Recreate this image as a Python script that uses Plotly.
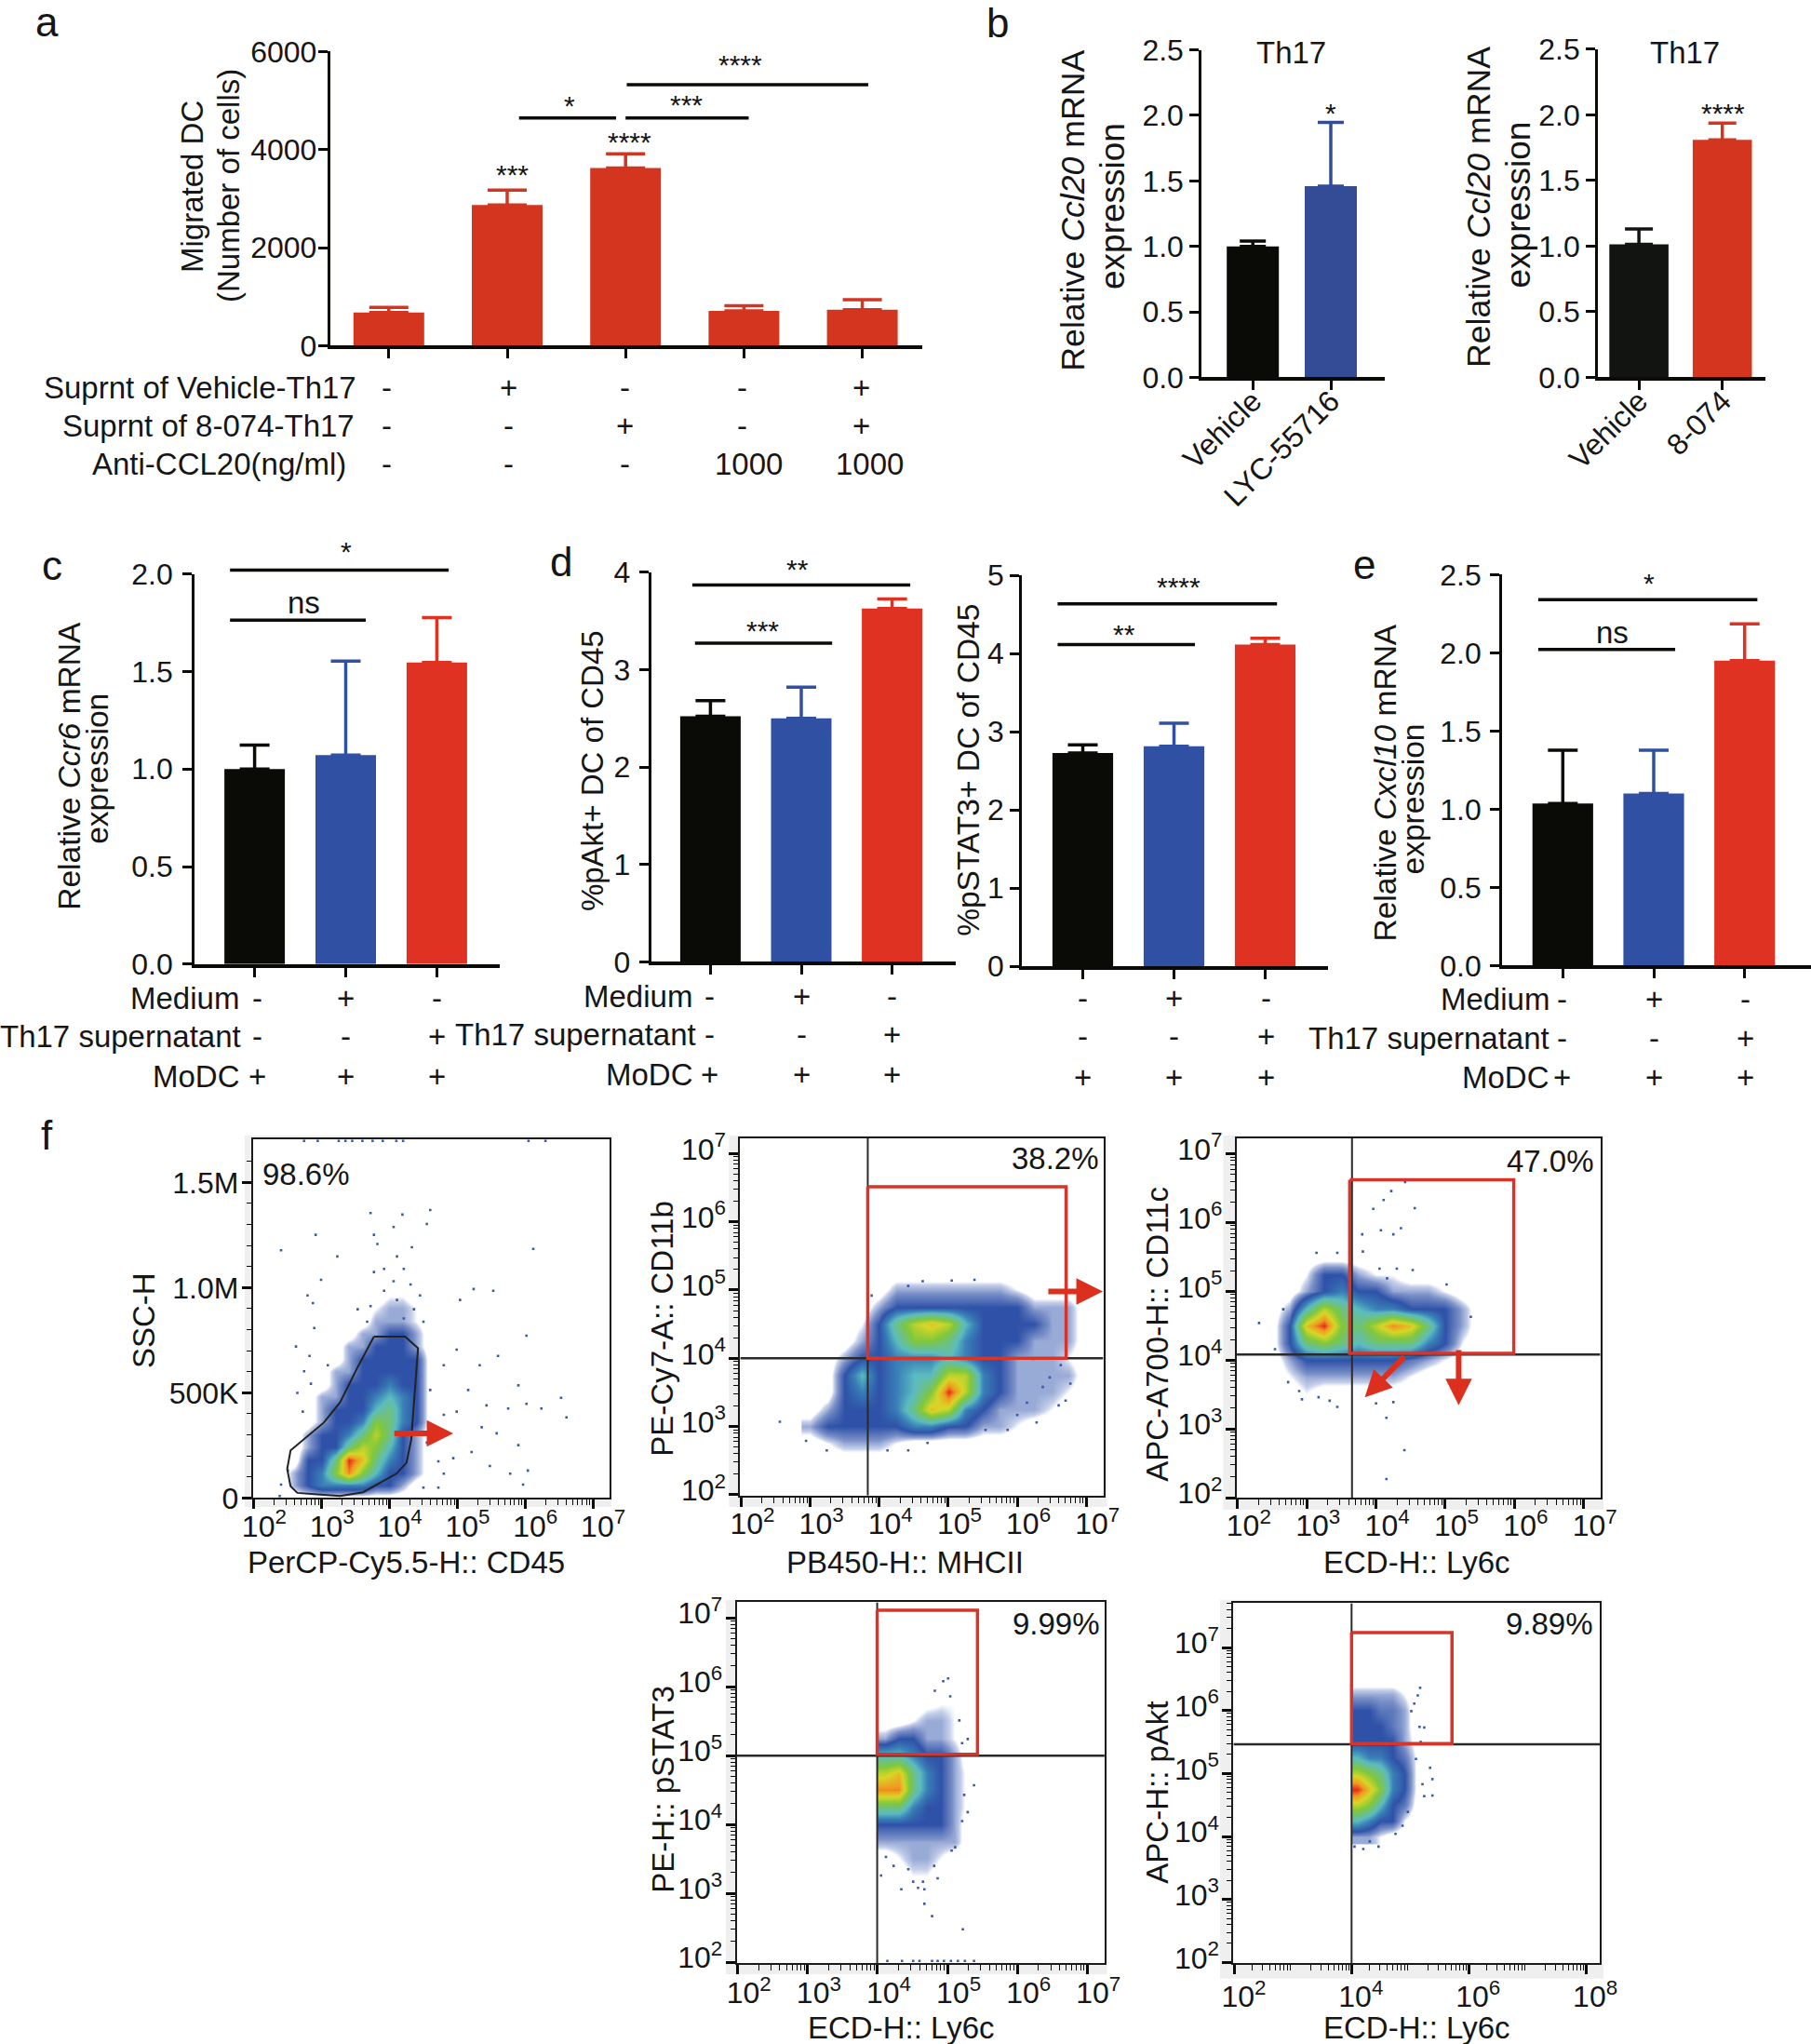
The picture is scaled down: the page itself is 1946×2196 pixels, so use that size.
import math
import plotly.graph_objects as go

W, H = 1946, 2196
FONT = "Liberation Sans"
FS = 32
LAB = 33
INK = "#161616"
BLACK = "#0a0a06"
BLUE = "#3050a4"
RED = "#e03222"
RED_A = "#d4351f"
GATE_RED = "#d8352a"

# ---- bar panels: values ----
a_means = [678, 2868, 3627, 712, 732]
a_errs = [780, 3173, 3912, 813, 936]
b1_means = [1.0, 1.46]
b1_errs = [1.04, 1.947]
b2_means = [1.013, 1.81]
b2_errs = [1.13, 1.938]
c_means = [1.0, 1.072, 1.547]
c_errs = [1.123, 1.553, 1.777]
d1_means = [2.52, 2.5, 3.626]
d1_errs = [2.68, 2.82, 3.724]
d2_means = [2.73, 2.815, 4.115]
d2_errs = [2.834, 3.11, 4.195]
e_means = [1.036, 1.10, 1.95]
e_errs = [1.377, 1.377, 2.185]

a_brackets = [(1.10, 1.92, 4644), (2.0, 3.04, 4644), (2.01, 4.05, 5322)]
c_brackets = [(-0.27, 2.13, 2.02), (-0.27, 1.22, 1.764)]
d1_brackets = [(-0.2, 2.2, 3.868), (-0.17, 1.34, 3.27)]
d2_brackets = [(-0.276, 2.13, 4.637), (-0.276, 1.23, 4.115)]
e_brackets = [(-0.27, 2.14, 2.34), (-0.27, 1.236, 2.022)]

# ---- flow plots: density read by eye on a coarse log10 grid, 0 = empty, 10 = red ----
f1_x = [2.4, 2.6, 2.8, 3.0, 3.2, 3.4, 3.6, 3.8, 4.0, 4.2, 4.4, 4.6]
f1_y = [0, 60, 120, 180, 240, 300, 360, 420, 480, 540, 600, 660, 720, 780, 840, 900, 960]
f1_z = [
    [0, 0, 0, 0, 0, 0, 0, 0, 0, 0, 0, 0],
    [0, 1, 2, 3, 3, 3, 3, 2, 2, 1, 0, 0],
    [0, 1, 2, 3, 6, 9, 6, 4, 2, 2, 1, 0],
    [0, 0, 2, 2, 5, 10, 8, 5, 3, 2, 1, 0],
    [0, 0, 1, 2, 2, 5, 7, 6, 4, 2, 1, 0],
    [0, 0, 1, 2, 2, 3, 5, 7, 5, 2, 1, 0],
    [0, 0, 0, 1, 2, 2, 3, 6, 5, 3, 2, 0],
    [0, 0, 0, 1, 2, 2, 2, 4, 5, 3, 2, 0],
    [0, 0, 0, 1, 1, 2, 2, 3, 4, 3, 2, 0],
    [0, 0, 0, 0, 1, 2, 2, 2, 3, 2, 2, 0],
    [0, 0, 0, 0, 1, 1, 2, 2, 2, 2, 2, 0],
    [0, 0, 0, 0, 0, 1, 2, 2, 2, 2, 2, 0],
    [0, 0, 0, 0, 0, 1, 1, 2, 2, 2, 1, 0],
    [0, 0, 0, 0, 0, 0, 1, 1, 2, 2, 1, 0],
    [0, 0, 0, 0, 0, 0, 0, 1, 1, 1, 0.5, 0],
    [0, 0, 0, 0, 0, 0, 0, 0.5, 1, 1, 0.5, 0],
    [0, 0, 0, 0, 0, 0, 0, 0, 0.5, 0.5, 0, 0],
]
f1_dots_x = [3.77, 3.82, 4.06, 4.33, 4.11, 3.92, 4.21, 3.77, 4.06, 4.31, 4.45, 3.92, 4.11, 3.72, 4.36, 3.53,
             3.67, 4.5, 4.21, 2.79, 2.87, 2.91, 2.4, 2.99, 3.23, 4.6, 4.55, 4.19, 3.72, 6.12, 6.02, 5.53,
             5.24, 5.04, 5.6, 4.99, 5.33, 4.8, 5.9, 6.53, 6.61, 6.24, 6.02, 5.75, 5.43, 5.16, 4.99, 4.8,
             4.6, 5.36, 5.58, 5.21, 4.94, 4.72, 4.55, 5.9, 6.04, 5.78, 5.97, 4.72, 4.5, 4.8, 5.48, 2.84,
             2.74, 2.64, 2.62, 2.82, 3.09, 2.89, 2.72, 2.5, 2.4, 2.38, 2.74, 2.94, 3.25, 3.35, 3.45, 3.6,
             3.75, 3.9, 4.1, 4.2, 6.05, 6.3]
f1_dots_y = [1251, 1207, 1288, 1192, 1148, 1089, 1089, 1074, 1030, 1015, 963, 985, 941, 912, 897, 897,
             838, 838, 853, 963, 926, 1251, 1177, 1037, 1148, 1369, 1302, 1347, 1354, 1184, 771, 985,
             993, 941, 675, 705, 631, 631, 535, 476, 383, 425, 447, 425, 440, 513, 410, 395,
             513, 336, 307, 218, 189, 174, 263, 251, 130, 115, 63, 49, 49, 115, 152, 543,
             602, 499, 720, 675, 631, 808, 410, 130, 63, 9, 1697, 1697, 1697, 1697, 1697, 1697,
             1697, 1697, 1697, 1697, 1697, 1697]
f1_gate_x = [3.77, 4.23, 4.42, 4.32, 4.25, 4.10, 3.61, 3.27, 2.64, 2.54, 2.49, 2.54, 3.03, 3.27, 3.52, 3.77]
f1_gate_y = [767, 767, 712, 277, 167, 115, 27, 9, 24, 56, 137, 226, 358, 454, 616, 767]

f2_x = [3.0, 3.25, 3.5, 3.75, 4.0, 4.25, 4.5, 4.75, 5.0, 5.25, 5.5, 5.75, 6.0, 6.25, 6.5, 6.75, 7.0]
f2_y = [2.5, 2.75, 3.0, 3.25, 3.5, 3.75, 4.0, 4.25, 4.5, 4.75, 5.0, 5.25]
f2_z = [
    [0, 0, 0, 0, 0, 0, 0, 0, 0, 0, 0, 0, 0, 0, 0, 0, 0],
    [0, 0.5, 1, 1, 1, 0.5, 0, 0, 0, 0, 0, 0, 0, 0, 0, 0, 0],
    [1, 2, 2, 2, 2, 2, 3, 3, 2, 2, 1, 1, 0.5, 0, 0, 0, 0],
    [0, 1, 2, 2, 2, 3, 5, 8, 7, 3, 2, 1, 1, 1, 0.5, 0, 0],
    [0, 0, 2, 3, 2, 3, 4, 6, 10, 7, 3, 2, 1, 1, 1, 0.5, 0],
    [0, 0, 2, 4, 2, 3, 4, 4, 7, 7, 3, 2, 1, 1, 1, 1, 0],
    [0, 0, 1, 2, 2, 3, 3, 3, 4, 3, 2, 2, 1, 1, 1, 0.5, 0],
    [0, 0, 0, 1, 2, 4, 6, 6, 5, 3, 2, 2, 2, 1, 1, 1, 0],
    [0, 0, 0, 0.5, 2, 5, 7, 8, 7, 4, 2, 2, 2, 2, 1, 1, 0],
    [0, 0, 0, 0, 1, 2, 2, 2, 2, 2, 2, 2, 2, 1, 1, 1, 0],
    [0, 0, 0, 0, 0, 1, 1, 1, 1, 1, 1, 1, 0.5, 0, 0, 0, 0],
    [0, 0, 0, 0, 0, 0, 0, 0, 0, 0, 0, 0, 0, 0, 0, 0, 0],
]
f2_dots_x = [2.56, 2.94, 3.24, 4.12, 4.42, 5.86, 6.28, 6.6, 6.7, 6.77, 6.63, 5.38, 5.05, 4.63, 4.42, 3.89,
             5.54, 4.7, 6.23, 6.37, 6.47, 6.0, 6.14]
f2_dots_y = [3.07, 2.79, 2.65, 2.65, 2.65, 2.95, 3.06, 3.31, 3.38, 3.63, 3.9, 5.15, 5.14, 5.13, 5.06, 4.92,
             2.95, 2.76, 3.99, 3.58, 3.72, 3.17, 3.35]

f3_x = [2.5, 2.75, 3.0, 3.25, 3.5, 3.75, 4.0, 4.25, 4.5, 4.75, 5.0, 5.25, 5.5]
f3_y = [3.5, 3.75, 4.0, 4.25, 4.5, 4.75, 5.0, 5.25, 5.5]
f3_z = [
    [0, 0, 0.5, 0, 0, 0, 0, 0, 0, 0, 0, 0, 0],
    [0, 0.5, 1, 1, 1, 1, 1, 1, 0.5, 0, 0, 0, 0],
    [0, 1, 2, 2, 2, 2, 2, 2, 1.5, 1, 0.5, 0, 0],
    [0, 2, 5, 6, 5, 4, 5, 5, 5, 3, 2, 0.5, 0],
    [0, 2, 8, 10, 6, 5, 7, 9, 8, 5, 2, 1, 0],
    [0, 1, 4, 7, 5, 4, 3, 3, 2, 2, 2, 1, 0],
    [0, 0, 1, 2, 3, 2, 2, 1, 1, 1, 0.5, 0, 0],
    [0, 0, 0.5, 2, 2, 1, 0.5, 0.5, 0, 0, 0, 0, 0],
    [0, 0, 0, 0, 0, 0, 0, 0, 0, 0, 0, 0, 0],
]
f3_dots_x = [4.42, 4.22, 4.11, 4.56, 3.96, 4.36, 4.07, 4.25, 3.8, 3.81, 3.14, 3.44, 4.05, 4.3, 4.53, 5.37,
             2.31, 5.02, 4.16, 4.15, 4.41, 4.15, 4.0, 4.25, 3.44, 2.93, 3.33, 2.89, 3.17, 2.73, 2.54, 2.66]
f3_dots_y = [6.59, 6.46, 6.33, 6.21, 6.2, 5.92, 5.89, 5.83, 5.83, 5.58, 5.56, 5.56, 5.33, 5.33, 5.31, 4.63,
             4.54, 5.1, 5.19, 3.16, 2.69, 2.27, 3.37, 3.39, 3.32, 3.43, 3.41, 3.55, 3.46, 3.68, 4.16, 4.74]

f4_x = [4.1, 4.3, 4.5, 4.7, 4.9, 5.1, 5.3]
f4_y = [3.25, 3.5, 3.75, 4.0, 4.25, 4.5, 4.75, 5.0, 5.25, 5.5, 5.75, 6.0]
f4_z = [
    [0, 0, 0.5, 0.5, 0, 0, 0],
    [0, 0.5, 1, 1, 0.5, 0, 0],
    [1, 1, 1, 1, 1, 1, 0],
    [2, 2, 2, 2, 2, 1, 0],
    [5, 5, 3, 2, 2, 1, 0.3],
    [9, 9, 5, 3, 2, 1, 0.3],
    [7, 8, 5, 3, 2, 1, 0.3],
    [4, 4, 3, 2, 2, 1, 0],
    [1, 2, 2, 1, 1, 0.5, 0],
    [0, 0, 0.5, 1, 1, 0.5, 0],
    [0, 0, 0, 0.3, 0.5, 0.5, 0],
    [0, 0, 0, 0, 0, 0.5, 0],
]
f4_dots_x = [5.01, 4.94, 5.04, 4.82, 5.17, 5.29, 5.21, 5.38, 5.29, 5.21, 5.24, 5.11, 5.06, 4.05, 4.34, 4.51,
             4.65, 4.86, 4.58, 4.67, 4.67, 4.78, 5.22, 4.12, 4.23, 4.81, 4.44, 4.14, 4.35, 4.51, 4.6, 4.78,
             4.86, 4.95, 5.05, 5.15, 5.25, 5.38]
f4_dots_y = [6.12, 6.08, 5.86, 5.94, 5.51, 5.24, 5.18, 4.57, 4.18, 4.05, 4.43, 3.67, 3.62, 3.26, 3.06, 3.17,
             3.17, 3.22, 3.08, 3.06, 2.85, 2.67, 2.48, 3.53, 3.4, 3.4, 3.35, 2.02, 2.02, 2.02, 2.02, 2.02,
             2.02, 2.02, 2.02, 2.02, 2.02, 2.02]

f5_x = [4.1, 4.3, 4.5, 4.7, 4.9, 5.1]
f5_y = [4.0, 4.25, 4.5, 4.75, 5.0, 5.25, 5.5, 5.75, 6.0, 6.25, 6.5]
f5_z = [
    [1, 1, 0.5, 0, 0, 0],
    [4, 3, 2, 2, 0.5, 0],
    [7, 6, 4, 2, 1.5, 0.3],
    [10, 8, 6, 3, 2, 0.5],
    [7, 6, 5, 3, 2, 0.5],
    [4, 3, 3, 2, 1.5, 0.5],
    [2, 2, 2, 2, 1, 0.3],
    [2, 2, 2, 1.5, 1, 0],
    [2, 2, 1.5, 1.5, 1, 0],
    [1, 1, 1, 1, 0.5, 0],
    [0, 0, 0, 0, 0, 0],
]
f5_dots_x = [5.17, 5.13, 5.07, 5.24, 5.16, 5.02, 5.18, 5.34, 5.38, 5.38, 5.21, 5.24, 5.1, 4.96, 4.87, 4.75,
             4.46, 4.2, 4.05, 4.31]
f5_dots_y = [6.36, 6.24, 6.11, 5.73, 5.74, 5.99, 5.5, 5.09, 4.91, 4.65, 4.83, 4.64, 5.23, 4.39, 4.17, 4.04,
             3.84, 3.8, 3.84, 3.92]

flow_colors = [
    [0.0, "#ffffff"], [0.05, "#ffffff"], [0.07, "#c6d0ea"], [0.12, "#7a90c8"], [0.2, "#2f52a8"], [0.3, "#3a80b8"],
    [0.4, "#5cbcc0"], [0.6, "#80c83c"], [0.75, "#d8d628"], [0.88, "#f09a20"], [1.0, "#e6281c"],
]

fig = go.Figure()
annos = []
shapes = []
axes = {}
n_axes = 0


def label(x, y, s, size=LAB, anchor="center", angle=0):
    annos.append(dict(x=x / W, y=1 - y / H, xref="paper", yref="paper", text=s, showarrow=False,
                      xanchor=anchor, yanchor="middle", textangle=angle,
                      font=dict(family=FONT, size=size, color=INK)))


def new_axes(left, right, top, bottom):
    global n_axes
    n_axes += 1
    sx = "" if n_axes == 1 else str(n_axes)
    axes[f"xaxis{sx}"] = dict(domain=[left / W, right / W], anchor=f"y{sx}", automargin=False)
    axes[f"yaxis{sx}"] = dict(domain=[1 - bottom / H, 1 - top / H], anchor=f"x{sx}", automargin=False)
    return f"xaxis{sx}", f"yaxis{sx}", f"x{sx}", f"y{sx}"


def bar_panel(box, c0, step, bar_px, means, errs, colors, ytop, yticks, cap, brackets=(), names=None, ystandoff=0):
    left, right, top, bottom = box
    xa, ya, xr, yr = new_axes(left, right, top, bottom)
    xs = list(range(len(means)))
    for i in xs:
        fig.add_trace(go.Bar(x=[i], y=[means[i]], width=bar_px / step, xaxis=xr, yaxis=yr,
                             marker=dict(color=colors[i], line=dict(width=0)),
                             error_y=dict(type="data", symmetric=False, array=[errs[i] - means[i]],
                                          arrayminus=[0], color=colors[i], thickness=3.5, width=cap)))
    # brackets may sit above the axis top, so y goes through paper coords (a trace line would get cut)
    for x0, x1, y in brackets:
        yp = (1 - bottom / H) + (y / ytop) * (bottom - top) / H
        shapes.append(dict(type="line", xref=xr, yref="paper", x0=x0, x1=x1, y0=yp, y1=yp,
                           line=dict(color=BLACK, width=3.5)))
    axes[xa].update(range=[(left - c0) / step, (right - c0) / step], tickvals=xs, ticks="outside", ticklen=10,
                    tickwidth=3, tickcolor=BLACK, showline=True, linecolor=BLACK, linewidth=4, showgrid=False,
                    zeroline=False, showticklabels=bool(names),
                    tickfont=dict(family=FONT, size=FS, color=INK))
    if names:
        axes[xa].update(ticktext=names, tickangle=-45, ticklabelstandoff=-20)
    axes[ya].update(range=[0, ytop], tickvals=yticks, ticks="outside", ticklen=10, tickwidth=3, tickcolor=BLACK,
                    showline=True, linecolor=BLACK, linewidth=3, showgrid=False, zeroline=False,
                    ticklabelstandoff=ystandoff, tickfont=dict(family=FONT, size=FS, color=INK))


def log_minor(lo, hi):
    return [math.log10(k * 10 ** n) for n in range(lo, hi) for k in range(2, 10)]


def flow_panel(box, band, xr_range, yr_range, z_x, z_y, z, dots_x, dots_y, xticks, yticks, quad, gate,
               shift=12, standoff=-9):
    xa, ya, xr, yr = new_axes(*box)
    for b, col in ((band, "#efefef"), (box, "#ffffff")):
        shapes.append(dict(type="rect", xref="paper", yref="paper", layer="below", x0=b[0] / W, x1=b[1] / W,
                           y0=1 - b[3] / H, y1=1 - b[2] / H, fillcolor=col, line=dict(width=0)))
    fig.add_trace(go.Heatmap(x=z_x, y=z_y, z=z, zmin=0, zmax=10, zsmooth="best", colorscale=flow_colors,
                             showscale=False, xaxis=xr, yaxis=yr, hoverinfo="skip"))
    fig.add_trace(go.Scatter(x=dots_x, y=dots_y, mode="markers", xaxis=xr, yaxis=yr,
                             marker=dict(symbol="square", size=2.6, color="#3a5aa8", line=dict(width=0))))
    if quad:
        qx, qy = quad
        fig.add_trace(go.Scatter(x=[qx, qx], y=yr_range, mode="lines", xaxis=xr, yaxis=yr,
                                 line=dict(color="#2a2a2a", width=2)))
        fig.add_trace(go.Scatter(x=xr_range, y=[qy, qy], mode="lines", xaxis=xr, yaxis=yr,
                                 line=dict(color="#2a2a2a", width=2.5)))
    if gate:
        g0, g1, g2, g3 = gate
        fig.add_trace(go.Scatter(x=[g0, g1, g1, g0, g0], y=[g2, g2, g3, g3, g2], mode="lines", xaxis=xr, yaxis=yr,
                                 line=dict(color=GATE_RED, width=3.5)))
    tickfont = dict(family=FONT, size=FS, color=INK)
    lo, hi = int(xr_range[0]), int(xr_range[1]) + 1
    axes[xa].update(range=xr_range, tickvals=xticks, ticktext=[f"10<sup>{t}</sup>" for t in xticks],
                    ticklabelshift=shift, ticklabelstandoff=standoff, ticks="outside", ticklen=10, tickwidth=2.5,
                    tickcolor=BLACK, showline=True, mirror=True, linecolor="#1a1a1a", linewidth=2, showgrid=False,
                    zeroline=False, tickfont=tickfont,
                    minor=dict(tickmode="array", tickvals=log_minor(lo, hi), ticks="outside", ticklen=6, tickwidth=1.2,
                               tickcolor=BLACK, showgrid=False))
    axes[ya].update(range=yr_range, ticks="outside", ticklen=10, tickwidth=2.5, tickcolor=BLACK, showline=True,
                    mirror=True, linecolor="#1a1a1a", linewidth=2, showgrid=False, zeroline=False, tickfont=tickfont,
                    ticklabelstandoff=-3)
    if yticks == "ssc":
        axes[ya].update(tickvals=[0, 500, 1000, 1500], ticktext=["0", "500K", "1.0M", "1.5M"],
                        minor=dict(tickmode="array", tickvals=[v for v in range(100, 1700, 100) if v % 500],
                                   ticks="outside", ticklen=5, tickwidth=1.2, tickcolor=BLACK, showgrid=False))
    else:
        # negative shift lifts the labels a little above their ticks, as in the original
        axes[ya].update(tickvals=yticks, ticktext=[f"10<sup>{t}</sup>" for t in yticks], ticklabelshift=-5,
                        minor=dict(tickmode="array", tickvals=log_minor(2, 8), ticks="outside", ticklen=5,
                                   tickwidth=1.2, tickcolor=BLACK, showgrid=False))
    return xr, yr


def red_arrow(xr, yr, x0, y0, x1, y1):
    annos.append(dict(x=x1, y=y1, ax=x0, ay=y0, xref=xr, yref=yr, axref=xr, ayref=yr, text="", showarrow=True,
                      arrowhead=2, arrowsize=0.95, arrowwidth=6, arrowcolor="#dc2f1e", standoff=0))


def rows(labels, label_right, ys, cols, cells):
    for lab, right, y, row in zip(labels, label_right, ys, cells):
        if lab:
            label(right, y, lab, anchor="right")
        for x, s in zip(cols, row):
            label(x, y, s)


# panel a
red5 = [RED_A] * 5
bar_panel((354.8, 991.4, 55.4, 371.4), 417.8, 127.2, 76, a_means, a_errs, red5, 6000, [0, 2000, 4000, 6000], 21,
          a_brackets, ystandoff=-5)
label(50, 23, "a", 44)
label(206, 201, "Migrated DC", angle=-90)
label(246, 200, "(Number of cells)", angle=-90)
for x, y, s in [(550, 188, "***"), (676, 152, "****"), (612, 114, "*"), (737, 113, "***"), (795, 70, "****")]:
    label(x, y, s, 30)
rows(["Suprnt of Vehicle-Th17", "Suprnt of 8-074-Th17"], [384.5, 383], [416.5, 457],
     [415, 546, 671, 797, 925], [["-", "+", "-", "-", "+"], ["-", "-", "+", "-", "+"]])
rows(["Anti-CCL20(ng/ml)"], [374], [498], [415, 546, 671, 804, 934], [["-", "-", "-", "1000", "1000"]])

# panel b
bar_panel((1291.3, 1487.8, 53.6, 405.4), 1346.2, 83.8, 56, b1_means, b1_errs, [BLACK, "#344c96"], 2.5,
          [0, 0.5, 1, 1.5, 2, 2.5], 14, names=["Vehicle", "LYC-55716"])
axes["yaxis2"]["tickformat"] = ".1f"
bar_panel((1717.2, 1896.9, 52.9, 405.4), 1761.1, 89.6, 63.6, b2_means, b2_errs, ["#121412", RED_A], 2.5,
          [0, 0.5, 1, 1.5, 2, 2.5], 15, names=["Vehicle", "8-074"])
axes["yaxis3"]["tickformat"] = ".1f"
label(1072, 24, "b", 44)
label(1387, 57, "Th17")
label(1810, 57, "Th17")
label(1152.7, 226, "Relative <i>Ccl20</i> mRNA", 35.7, angle=-90)
label(1195, 222, "expression", 37, angle=-90)
label(1589, 223, "Relative <i>Ccl20</i> mRNA", 35.7, angle=-90)
label(1630.5, 220, "expression", 37, angle=-90)
label(1430, 121.5, "*", 30)
label(1851, 121, "****", 30)

# panel c
tri = [BLACK, BLUE, RED]
bar_panel((209.2, 537, 616.7, 1035.8), 273.6, 97.9, 65, c_means, c_errs, tri, 2, [0, 0.5, 1, 1.5, 2], 16, c_brackets,
          ystandoff=4)
axes["yaxis4"]["tickformat"] = ".1f"
label(56, 607.6, "c", 44)
label(75, 822.7, "Relative <i>Ccr6</i> mRNA", 33.5, angle=-90)
label(105, 825.8, "expression", 33.5, angle=-90)
label(372, 592, "*", 30)
label(326.5, 647, "ns")
medium = ["-", "+", "-"]
th17 = ["-", "-", "+"]
modc = ["+", "+", "+"]
row_labels = ["Medium", "Th17 supernatant", "MoDC"]
rows(row_labels, [259, 261, 260], [1072, 1113.7, 1156], [276, 371, 469.4], [medium, th17, modc])

# panel d
bar_panel((699.6, 1027, 614.7, 1033.4), 763.4, 97.6, 65, d1_means, d1_errs, tri, 4, [0, 1, 2, 3, 4], 16, d1_brackets,
          ystandoff=3)
bar_panel((1098.3, 1427, 618.2, 1038.2), 1163.5, 98, 65.2, d2_means, d2_errs, tri, 5, [0, 1, 2, 3, 4, 5], 16, d2_brackets)
label(602.7, 603.6, "d", 44)
label(636.5, 828.6, "%pAkt+ DC of CD45", angle=-90)
label(1041, 827.8, "%pSTAT3+ DC of CD45", 33.5, angle=-90)
label(857, 611, "**", 30)
label(819, 677, "***", 30)
label(1266, 630.5, "****", 30)
label(1208, 681, "**", 30)
rows(row_labels, [746, 750, 747.4], [1070, 1111.7, 1154.4], [762.8, 861, 958.5], [medium, th17, modc])
rows(["", "", ""], [0, 0, 0], [1072, 1113.7, 1157], [1163.5, 1261, 1360], [medium, th17, modc])

# panel e
bar_panel((1614.2, 1946, 617.4, 1037.4), 1679.3, 97.7, 65.2, e_means, e_errs, tri, 2.5, [0, 0.5, 1, 1.5, 2, 2.5], 16,
          e_brackets, ystandoff=3)
axes["yaxis7"]["tickformat"] = ".1f"
label(1465.8, 606.4, "e", 44)
label(1487.5, 841, "Relative <i>Cxcl10</i> mRNA", 33.5, angle=-90)
label(1518.9, 858.6, "expression", 33.5, angle=-90)
label(1772, 626.6, "*", 30)
label(1732.4, 679.5, "ns")
rows(row_labels, [1666.7, 1666.7, 1666.7], [1073, 1115, 1157], [1678.7, 1777, 1875.4], [medium, th17, modc])

# panel f
label(50, 1219, "f", 44)
xr, yr = flow_panel((271.8, 654.6, 1224, 1609.3), (262.9, 656.8, 1220, 1619), [1.985, 7.24], [0, 1705],
                    f1_x, f1_y, f1_z, f1_dots_x, f1_dots_y, [2, 3, 4, 5, 6, 7], "ssc", None, None, shift=11)
fig.add_trace(go.Scatter(x=f1_gate_x, y=f1_gate_y, mode="lines", xaxis=xr, yaxis=yr,
                         line=dict(color="#222222", width=2)))
red_arrow(xr, yr, 4.05, 307, 4.94, 307)
label(329, 1261.7, "98.6%")
label(154, 1419, "SSC-H", angle=-90)
label(436, 1678, "PerCP-Cy5.5-H:: CD45")

xr, yr = flow_panel((795.4, 1185.5, 1222.7, 1606.7), (783.3, 1189.6, 1220, 1619), [1.986, 7.246], [1.99, 7.227],
                    f2_x, f2_y, f2_z, f2_dots_x, f2_dots_y, [2, 3, 4, 5, 6, 7], [2, 3, 4, 5, 6, 7],
                    (3.834, 4.0), (3.834, 6.708, 6.514, 4.0))
red_arrow(xr, yr, 6.43, 4.98, 7.24, 4.98)
label(1133.5, 1244, "38.2%")
label(711.7, 1428, "PE-Cy7-A:: CD11b", angle=-90)
label(972.7, 1678, "PB450-H:: MHCII")

xr, yr = flow_panel((1328.8, 1719.6, 1223, 1609), (1314.3, 1723, 1220, 1622), [1.986, 7.24], [2.0, 7.226],
                    f3_x, f3_y, f3_z, f3_dots_x, f3_dots_y, [2, 3, 4, 5, 6, 7], [2, 3, 4, 5, 6, 7],
                    (3.653, 4.08), (3.62, 5.99, 6.625, 4.10))
red_arrow(xr, yr, 4.426, 4.067, 3.838, 3.458)
red_arrow(xr, yr, 5.194, 4.166, 5.194, 3.345)
label(1666, 1247, "47.0%")
label(1242.7, 1433, "APC-A700-H:: CD11c", angle=-90)
label(1521.6, 1678, "ECD-H:: Ly6c")

flow_panel((791.7, 1186.9, 1721.4, 2109), (780, 1189.6, 1719, 2121), [1.986, 7.248], [1.99, 7.225],
           f4_x, f4_y, f4_z, f4_dots_x, f4_dots_y, [2, 3, 4, 5, 6, 7], [2, 3, 4, 5, 6, 7],
           (3.995, 5.0), (3.995, 5.43, 7.11, 5.02), standoff=-7)
label(1134.5, 1744, "9.99%")
label(711.7, 1922, "PE-H:: pSTAT3", angle=-90)
label(967.5, 2178, "ECD-H:: Ly6c")

flow_panel((1325.4, 1719, 1722.4, 2109), (1311, 1723, 1719, 2125.8), [1.984, 8.236], [1.99, 7.704],
           f5_x, f5_y, f5_z, f5_dots_x, f5_dots_y, [2, 4, 6, 8], [2, 3, 4, 5, 6, 7],
           (4.0, 5.463), (4.0, 5.714, 7.236, 5.473), shift=10, standoff=-3)
label(1664.5, 1744, "9.89%")
label(1242.7, 1926, "APC-H:: pAkt", angle=-90)
label(1521.6, 2178, "ECD-H:: Ly6c")

fig.update_layout(template="none", width=W, height=H, margin=dict(l=0, r=0, t=0, b=0, autoexpand=False),
                  paper_bgcolor="white", plot_bgcolor="white",
                  showlegend=False, barmode="overlay", annotations=annos, shapes=shapes,
                  font=dict(family=FONT, size=FS, color=INK), **axes)
fig.write_html("out.html", config=dict(displayModeBar=False), post_script="document.body.style.margin='0';")
